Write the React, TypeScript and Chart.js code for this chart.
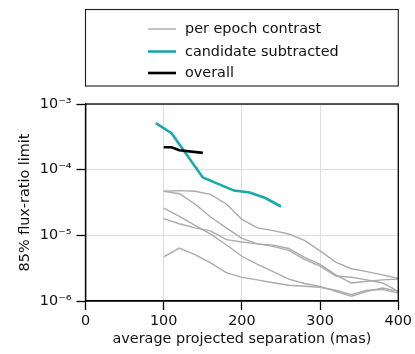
import React, { useEffect, useRef } from 'react';
import { Chart, registerables } from 'chart.js';

Chart.register(...registerables);

const FONT = '"DejaVu Sans", "Liberation Sans", sans-serif';
const FS = 14.4;

// Separation grid (mas) for the per-epoch contrast curves
const sepX = [100, 120, 140, 160, 180, 200, 220, 240, 260, 280, 300, 320, 340, 360, 380, 400];

// Per-epoch contrast curves (85% flux-ratio limit)
const epochA = [4.7e-5, 4.8e-5, 4.7e-5, 4.2e-5, 3.0e-5, 1.75e-5, 1.3e-5, 1.18e-5, 1.05e-5, 8.4e-6, 5.8e-6, 3.9e-6, 3.1e-6, 2.8e-6, 2.5e-6, 2.2e-6];
const epochB = [4.7e-5, 4.3e-5, 3.0e-5, 1.9e-5, 1.3e-5, 9.0e-6, 7.4e-6, 7.1e-6, 6.3e-6, 4.6e-6, 3.6e-6, 2.5e-6, 1.88e-6, 2.0e-6, 2.1e-6, 2.15e-6];
const epochC = [2.6e-5, 1.95e-5, 1.42e-5, 1.04e-5, 7.2e-6, 4.8e-6, 3.6e-6, 2.8e-6, 2.15e-6, 1.85e-6, 1.67e-6, 1.4e-6, 1.18e-6, 1.4e-6, 1.58e-6, 1.4e-6];
const epochD = [1.8e-5, 1.5e-5, 1.3e-5, 1.17e-5, 8.6e-6, 7.9e-6, 7.4e-6, 6.8e-6, 5.9e-6, 4.3e-6, 3.4e-6, 2.4e-6, 2.3e-6, 2.1e-6, 1.88e-6, 1.4e-6];
const epochE = [4.7e-6, 6.4e-6, 5.1e-6, 3.8e-6, 2.7e-6, 2.29e-6, 2.1e-6, 1.9e-6, 1.74e-6, 1.68e-6, 1.62e-6, 1.46e-6, 1.25e-6, 1.46e-6, 1.5e-6, 1.32e-6];

// Candidate subtracted curve
const candX = [90, 110, 150, 190, 210, 230, 250];
const candY = [5.1e-4, 3.6e-4, 7.6e-5, 4.8e-5, 4.5e-5, 3.7e-5, 2.75e-5];

// Overall curve
const overallX = [100, 110, 120, 150];
const overallY = [2.2e-4, 2.19e-4, 1.97e-4, 1.8e-4];

// Axis ticks
const xTickValues = [0, 100, 200, 300, 400];
const yTickValues = [1e-6, 1e-5, 1e-4, 1e-3];
const yTickLabels = ['10⁻⁶', '10⁻⁵', '10⁻⁴', '10⁻³'];

const legendLabels = ['per epoch contrast', 'candidate subtracted', 'overall'];
const xTitle = 'average projected separation (mas)';
const yTitle = '85% flux-ratio limit';

const GRAY = '#ababab';
const CYAN = '#19a9aa';
const BLACK = '#000000';

const toPts = (xs: number[], ys: number[]) => xs.map((x, i) => ({ x, y: ys[i] }));

const frameAndLegend = {
  id: 'frameAndLegend',
  afterDraw(chart: any) {
    const { ctx, chartArea: a } = chart;
    ctx.save();
    // full axes frame
    ctx.strokeStyle = '#000';
    ctx.lineWidth = 1.3;
    ctx.strokeRect(a.left, a.top, a.right - a.left, a.bottom - a.top);
    // legend box
    const bx = a.left;
    const bw = a.right - a.left;
    const by = 9.5;
    const bh = 76.5;
    ctx.lineWidth = 1.1;
    ctx.strokeStyle = '#1a1a1a';
    ctx.strokeRect(bx, by, bw, bh);
    const colors = [GRAY, CYAN, BLACK];
    const widths = [1.4, 2.6, 2.6];
    const rows = [29, 51.5, 73];
    ctx.font = FS + 'px ' + FONT;
    ctx.textBaseline = 'middle';
    ctx.textAlign = 'left';
    legendLabels.forEach((lab, i) => {
      ctx.beginPath();
      ctx.strokeStyle = colors[i];
      ctx.lineWidth = widths[i];
      ctx.moveTo(148, rows[i]);
      ctx.lineTo(176, rows[i]);
      ctx.stroke();
      ctx.fillStyle = '#111';
      ctx.fillText(lab, 185, rows[i] + 0.5);
    });
    ctx.restore();
  },
};

export default function App() {
  const ref = useRef<HTMLCanvasElement | null>(null);

  useEffect(() => {
    if (!ref.current) return;
    const grayDs = [epochA, epochB, epochC, epochD, epochE].map((ys) => ({
      label: legendLabels[0],
      data: toPts(sepX, ys),
      borderColor: GRAY,
      borderWidth: 1.4,
      pointRadius: 0,
      tension: 0,
      fill: false,
    }));
    const chart = new Chart(ref.current, {
      type: 'line',
      data: {
        datasets: [
          {
            label: legendLabels[2],
            data: toPts(overallX, overallY),
            borderColor: BLACK,
            borderWidth: 2.6,
            pointRadius: 0,
            tension: 0,
            fill: false,
          },
          {
            label: legendLabels[1],
            data: toPts(candX, candY),
            borderColor: CYAN,
            borderWidth: 2.6,
            pointRadius: 0,
            tension: 0,
            fill: false,
          },
          ...grayDs,
        ],
      },
      options: {
        responsive: false,
        animation: false,
        events: [],
        layout: { padding: { top: 104, right: 14, left: 0, bottom: 0 } },
        plugins: {
          legend: { display: false },
          tooltip: { enabled: false },
        },
        scales: {
          x: {
            type: 'linear',
            min: 0,
            max: 400,
            afterBuildTicks: (scale: any) => {
              scale.ticks = xTickValues.map((v) => ({ value: v }));
            },
            afterFit: (scale: any) => {
              scale.height = 53;
            },
            ticks: {
              color: '#111',
              font: { family: FONT, size: FS },
              padding: 3,
              maxRotation: 0,
            },
            grid: {
              color: '#dedede',
              lineWidth: 1,
              drawTicks: true,
              tickLength: 9,
              tickColor: '#000',
              tickWidth: 1.3,
            },
            border: { display: true, color: '#000', width: 1.3 },
            title: {
              display: true,
              text: xTitle,
              color: '#111',
              font: { family: FONT, size: FS },
              padding: { top: 0, bottom: 6 },
            },
          },
          y: {
            type: 'logarithmic',
            min: 1e-6,
            max: 1e-3,
            afterBuildTicks: (scale: any) => {
              scale.ticks = yTickValues.map((v) => ({ value: v }));
            },
            afterFit: (scale: any) => {
              scale.width = 85.5;
            },
            ticks: {
              color: '#111',
              font: { family: FONT, size: FS },
              padding: 5,
              callback: (value: any) => {
                const idx = yTickValues.findIndex((v) => Math.abs(Math.log10(v) - Math.log10(Number(value))) < 1e-6);
                return idx >= 0 ? yTickLabels[idx] : '';
              },
            },
            grid: {
              color: '#dedede',
              lineWidth: 1,
              drawTicks: true,
              tickLength: 9,
              tickColor: '#000',
              tickWidth: 1.3,
            },
            border: { display: true, color: '#000', width: 1.3 },
            title: {
              display: true,
              text: yTitle,
              color: '#111',
              font: { family: FONT, size: FS },
              padding: { top: 16.5, bottom: 0 },
            },
          },
        },
      },
      plugins: [frameAndLegend],
    } as any);
    return () => chart.destroy();
  }, []);

  return (
    <div style={{ position: 'absolute', left: 0, top: 0, width: 415, height: 354, background: '#fff' }}>
      <canvas ref={ref} width={415} height={354} style={{ display: 'block', width: 415, height: 354 }} />
    </div>
  );
}
